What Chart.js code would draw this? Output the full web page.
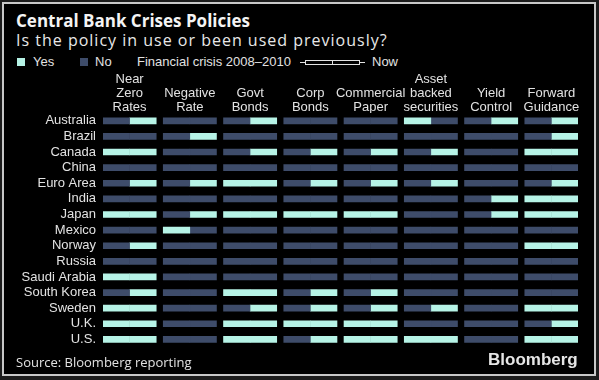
<!DOCTYPE html>
<html>
<head>
<meta charset="utf-8">
<script src="https://cdn.jsdelivr.net/npm/chart.js@4.4.0/dist/chart.umd.min.js"></script>
<style>
  html, body { margin: 0; padding: 0; background: #1c1c1c; }
  #page { position: relative; width: 599px; height: 380px; overflow: hidden; }
  #frame { position: absolute; left: 2px; top: 2px; width: 590px; height: 370px; border: 2px solid #c8c8c8; background: #000; }
  .txt { position: absolute; white-space: nowrap; color: #e2e2e2; }
  #title { left: 16px; top: 9px; font: bold 17px "Open Sans", sans-serif; color: #f4f4f4; }
  #subtitle { left: 16px; top: 29px; font: 16px "Open Sans", sans-serif; letter-spacing: 1px; color: #e8e8e8; }
  .leg { top: 54px; font: 13px "Liberation Sans", Arial, sans-serif; }
  .sw { position: absolute; top: 58px; width: 8px; height: 8px; }
  #source { left: 16px; top: 353px; font: 13px "Open Sans", sans-serif; }
  #brand { left: 488px; top: 350px; font: bold 17px "Liberation Sans", Arial, sans-serif; color: #e6e6e6; }
  #chartBox { position: absolute; left: 0; top: 71px; }
</style>
</head>
<body>
<div id="page">
  <div id="frame"></div>
  <div class="txt" id="title">Central Bank Crises Policies</div>
  <div class="txt" id="subtitle">Is the policy in use or been used previously?</div>
  <div class="sw" style="left:17px; background:#b6f3e6"></div>
  <div class="txt leg" style="left:33px">Yes</div>
  <div class="sw" style="left:80px; background:#3e4c6a"></div>
  <div class="txt leg" style="left:95px">No</div>
  <div class="txt leg" style="left:137px">Financial crisis 2008–2010</div>
  <svg style="position:absolute; left:299px; top:56px" width="68" height="12">
    <g stroke="#e2e2e2" stroke-width="1" fill="none">
      <line x1="1" y1="6.5" x2="6" y2="6.5"/>
      <rect x="6.5" y="4.5" width="54" height="4"/>
      <line x1="33.5" y1="4.5" x2="33.5" y2="8.5"/>
      <line x1="61" y1="6.5" x2="66" y2="6.5"/>
    </g>
  </svg>
  <div class="txt leg" style="left:372px">Now</div>
  <div id="chartBox"><canvas id="myChart" width="599" height="291"></canvas></div>
  <div class="txt" id="source">Source: Bloomberg reporting</div>
  <div class="txt" id="brand">Bloomberg</div>
</div>
<script>
var countries = ["Australia", "Brazil", "Canada", "China", "Euro Area", "India", "Japan", "Mexico",
    "Norway", "Russia", "Saudi Arabia", "South Korea", "Sweden", "U.K.", "U.S."];

var policies = [["Near", "Zero", "Rates"], ["Negative", "Rate"], ["Govt", "Bonds"], ["Corp", "Bonds"],
    ["Commercial", "Paper"], ["Asset", "backed", "securities"], ["Yield", "Control"], ["Forward", "Guidance"]];

// 1 = yes, 0 = no ; one row per country, one value per policy
// Financial crisis 2008-2010
var crisis = [
    [0, 0, 0, 0, 0, 1, 0, 0],
    [0, 0, 0, 0, 0, 0, 0, 0],
    [1, 0, 0, 0, 0, 0, 0, 1],
    [0, 0, 0, 0, 0, 0, 0, 0],
    [0, 0, 1, 0, 0, 0, 0, 0],
    [0, 0, 0, 0, 0, 0, 0, 1],
    [1, 0, 1, 1, 1, 0, 0, 1],
    [0, 1, 0, 0, 0, 0, 0, 0],
    [0, 0, 0, 0, 0, 0, 0, 1],
    [0, 0, 0, 0, 0, 0, 0, 0],
    [1, 0, 0, 0, 0, 0, 0, 0],
    [0, 0, 1, 0, 0, 0, 0, 0],
    [1, 0, 0, 0, 0, 0, 0, 1],
    [1, 0, 1, 1, 1, 0, 0, 0],
    [1, 0, 1, 0, 1, 1, 0, 1]
];

// Now
var now = [
    [1, 0, 1, 0, 0, 0, 1, 1],
    [0, 1, 0, 0, 0, 0, 0, 1],
    [1, 0, 1, 1, 1, 1, 0, 1],
    [0, 0, 0, 0, 0, 0, 0, 0],
    [1, 1, 1, 1, 1, 1, 0, 1],
    [0, 0, 0, 0, 0, 0, 1, 1],
    [1, 1, 1, 1, 1, 0, 1, 1],
    [0, 0, 0, 0, 0, 0, 0, 0],
    [1, 0, 0, 0, 0, 0, 0, 1],
    [0, 0, 0, 0, 0, 0, 0, 0],
    [1, 0, 0, 0, 0, 0, 0, 0],
    [1, 0, 1, 1, 1, 0, 0, 0],
    [1, 0, 1, 1, 1, 1, 0, 1],
    [1, 0, 1, 1, 1, 0, 0, 1],
    [1, 0, 1, 1, 1, 1, 0, 1]
];

var yesColor = "#b6f3e6";
var noColor = "#3e4c6a";

var barSpan = 0.883;   // share of a column taken by its bar
var half = 0.44;

var datasets = [];
policies.forEach(function (p, pi) {
    [crisis, now].forEach(function (period, h) {
        datasets.push({
            data: countries.map(function () {
                return h == 0 ? [pi, pi + half] : [pi + half + 0.003, pi + barSpan];
            }),
            backgroundColor: countries.map(function (c, ci) {
                return period[ci][pi] ? yesColor : noColor;
            }),
            barThickness: 6,
            grouped: false
        });
    });
});

var ctx = document.getElementById("myChart").getContext("2d");
var chart = new Chart(ctx, {
    type: 'bar',
    data: { labels: countries, datasets: datasets },
    options: {
        indexAxis: 'y',
        responsive: false,
        animation: false,
        layout: { padding: { right: 21, top: 0, bottom: 0, left: 0 } },
        plugins: { legend: { display: false }, tooltip: { enabled: false } },
        scales: {
            x: {
                type: 'linear',
                position: 'top',
                min: 0,
                max: barSpan + 7,
                grid: { display: false, drawTicks: false, tickLength: 0 },
                border: { display: false },
                afterBuildTicks: function (scale) {
                    scale.ticks = policies.map(function (p, i) { return { value: i + barSpan / 2 }; });
                },
                afterFit: function (scale) { scale.height = 42; },
                ticks: {
                    autoSkip: false,
                    maxRotation: 0,
                    minRotation: 0,
                    padding: -1,
                    color: "#e2e2e2",
                    font: { family: "Liberation Sans", size: 13, lineHeight: 1.05 },
                    callback: function (v, i) { return policies[i]; }
                }
            },
            y: {
                grid: { display: false, drawTicks: false, tickLength: 0 },
                border: { display: false },
                afterFit: function (scale) { scale.width = 103; },
                ticks: {
                    autoSkip: false,
                    padding: 7,
                    color: "#e2e2e2",
                    font: { family: "Liberation Sans", size: 13 }
                }
            }
        }
    }
});
</script>
</body>
</html>
